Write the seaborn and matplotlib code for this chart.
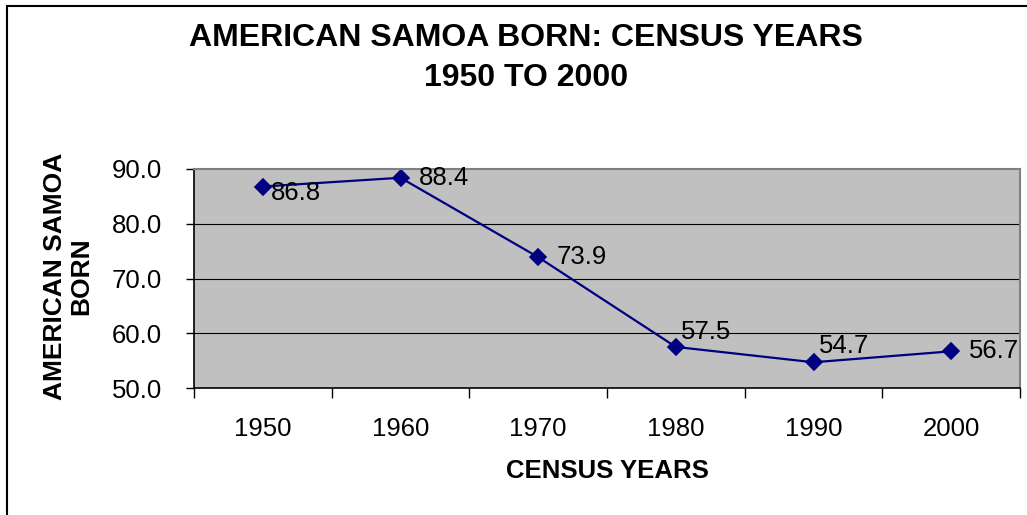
import matplotlib
matplotlib.use("Agg")
import matplotlib.pyplot as plt
import matplotlib.patches as mpatches
from matplotlib.ticker import FixedLocator, NullFormatter, FixedFormatter
import seaborn as sns
import pandas as pd

years = ["1950", "1960", "1970", "1980", "1990", "2000"]
values = [86.8, 88.4, 73.9, 57.5, 54.7, 56.7]
label_texts = ["86.8", "88.4", "73.9", "57.5", "54.7", "56.7"]
yticks = [50.0, 60.0, 70.0, 80.0, 90.0]

sns.set_theme(style="white")
plt.rcParams['font.family'] = ['Liberation Sans', 'DejaVu Sans']
plt.rcParams['text.color'] = '#000000'
plt.rcParams['xtick.color'] = '#000000'
plt.rcParams['ytick.color'] = '#000000'
plt.rcParams['axes.labelcolor'] = '#000000'

W, H = 1027, 515
fig = plt.figure(figsize=(W / 100, H / 100), dpi=100)
ax = fig.add_axes([194 / W, 1 - 388 / H, (1020 - 194) / W, (388 - 169) / H])
ax.set_facecolor("#C0C0C0")

df = pd.DataFrame({"year": years, "value": values})
sns.pointplot(data=df, x="year", y="value", ax=ax, color="#000080",
              markers="D", linestyles="-", markersize=8, linewidth=1.6)

ax.set_xlim(-0.5, len(years) - 0.5)
ax.set_ylim(50, 90)

# gridlines
for v in yticks[1:-1]:
    ax.axhline(v, color="#000000", lw=0.8, zorder=0.5)

# y ticks
ax.set_yticks(yticks)
ax.set_yticklabels([f"{v:.1f}" for v in yticks], fontsize=18.5)
ax.tick_params(axis="y", which="major", direction="out", length=6, width=1,
               color="#000000", labelcolor="#000000", left=True, pad=17)

# x ticks: marks at category boundaries, labels at centres
n = len(years)
ax.xaxis.set_major_locator(FixedLocator([i - 0.5 for i in range(n + 1)]))
ax.xaxis.set_major_formatter(NullFormatter())
ax.xaxis.set_minor_locator(FixedLocator(list(range(n))))
ax.xaxis.set_minor_formatter(FixedFormatter(years))
ax.tick_params(axis="x", which="major", direction="out", length=7, width=1,
               color="#000000", bottom=True)
ax.tick_params(axis="x", which="minor", length=0, labelsize=18.5, pad=21,
               labelcolor="#000000")

for s in ["left", "bottom"]:
    ax.spines[s].set_color("#000000")
    ax.spines[s].set_linewidth(1.2)
for s in ["top", "right"]:
    ax.spines[s].set_color("#808080")
    ax.spines[s].set_linewidth(1.5)

ax.set_xlabel("")
ax.set_ylabel("")

# data labels
offsets = [(6, -5), (13, 0), (13, 0), (4, 11), (4, 11.5), (13, 0)]
for i, (v, t) in enumerate(zip(values, label_texts)):
    ax.annotate(t, (i, v), xytext=offsets[i], textcoords="offset points",
                ha="left", va="center", fontsize=18.5, color="#000000")

# titles
fig.text(526 / W, 1 - 38 / H, "AMERICAN SAMOA BORN: CENSUS YEARS",
         ha="center", va="center", fontsize=23, fontweight="bold", color="#000000")
fig.text(526 / W, 1 - 78 / H, "1950 TO 2000",
         ha="center", va="center", fontsize=23, fontweight="bold", color="#000000")
fig.text(607 / W, 1 - 471 / H, "CENSUS YEARS",
         ha="center", va="center", fontsize=18.5, fontweight="bold", color="#000000")
fig.text(68 / W, 1 - 276 / H, "AMERICAN SAMOA\nBORN", rotation=90,
         ha="center", va="center", fontsize=19, fontweight="bold",
         linespacing=1.15, multialignment="center", color="#000000")

# chart border
fig.patches.append(mpatches.Rectangle((7 / W, -0.2), 1.5, 1.2 - 6 / H,
                                      transform=fig.transFigure, fill=False,
                                      edgecolor="#000000", linewidth=1.5))

fig.savefig("out.png", dpi=100)
